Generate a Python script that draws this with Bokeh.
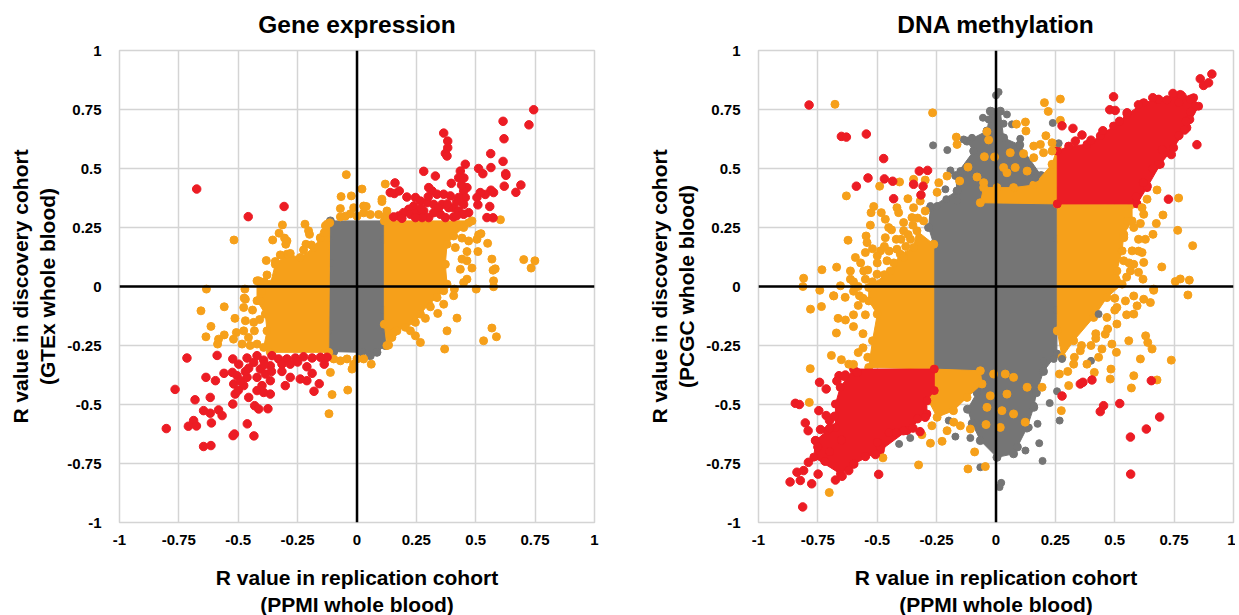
from bokeh.plotting import figure
from bokeh.layouts import row
from bokeh.models import FixedTicker, Span
from bokeh.embed import file_html
from bokeh.resources import INLINE

RED = "#ec1c24"; ORANGE = "#f6a01a"; GRAY = "#757575"
tick_values = [-1, -0.75, -0.5, -0.25, 0, 0.25, 0.5, 0.75, 1]
tick_labels = ["-1", "-0.75", "-0.5", "-0.25", "0", "0.25", "0.5", "0.75", "1"]

# ---------- Gene expression: outlines of the dense clouds ----------
ge_gray_outline = [(-.112,.278),(.118,.278),(.114,.2),(.114,-.1),(.122,-.188),(.119,-.25),(.084,-.279),(.056,-.293),(.02,-.279),(-.098,-.276),(-.119,-.279),(-.122,-.188),(-.114,.1),(-.122,.2)]
ge_orange_right = [(.115,.278),(.484,.278),(.449,.25),(.407,.214),(.379,.179),(.372,.094),(.379,.01),(.365,-.018),(.337,-.047),(.302,-.075),(.267,-.117),(.246,-.152),(.204,-.173),(.168,-.188),(.147,-.216),(.126,-.25),(.115,-.16)]
ge_orange_left = [(-.115,.27),(-.126,.264),(-.154,.207),(-.182,.165),(-.239,.123),(-.295,.137),(-.344,.094),(-.365,.01),(-.421,.024),(-.421,-.06),(-.386,-.117),(-.379,-.188),(-.393,-.258),(-.365,-.279),(-.119,-.279)]
# ---------- Gene expression: separate points ----------
ge_orange = [(-.045,.474),(.021,.413),(.119,.434),(-.067,.381),(-.024,.384),(.105,.37),(.105,.36),(-.07,.33),(-.014,.334),(.028,.341),(.039,.339),(.126,.32),(-.049,.298),(-.028,.308),(0,.298),(.028,.312),(.056,.305),(.091,.305),(.119,.298),(-.07,.295),(.126,.29),
 (-.314,.261),(-.219,.264),(-.204,.236),(-.2,.221),(-.328,.226),(-.355,.197),(-.305,.205),(-.295,.193),(-.3,.179),(-.518,.197),(-.192,.176),(-.215,.179),(-.225,.155),(-.154,.205),(-.138,.228),(-.133,.257),(-.382,.11),(-.344,.106),(-.323,.134),(-.281,.14),(-.379,.049),(-.414,.024),(-.634,-.011),(-.472,-.011),(-.475,-.049),(-.39,.02),(-.4,-.02),
 (-.657,-.103),(-.559,-.086),(-.477,-.089),(-.514,-.135),(-.615,-.169),(-.636,-.213),(-.559,-.205),(-.583,-.223),(-.587,-.244),(-.52,-.223),(-.508,-.195),(-.47,-.145),(-.477,-.188),(-.484,-.244),(-.457,-.216),(-.435,-.152),(-.421,-.244),(-.407,-.061),(-.47,-.054),(-.432,-.188),(-.44,-.1),(-.41,-.14),(-.45,-.25),
 (-.112,-.364),(-.105,-.458),(-.039,-.439),(-.118,-.539),(-.021,-.35),(.06,-.329),(-.098,-.307),(-.07,-.315),(-.042,-.307),(0,-.307),(.028,-.307),(-.014,-.329),
 (.604,.283),(.512,.219),(.522,.224),(.505,.2),(.55,.183),(.509,.148),(.463,.148),(.442,.205),(.47,.193),(.568,.116),(.582,.075),(.573,.069),(.575,.024),(.575,-.001),(.502,-.011),(.702,.114),(.749,.109),(.733,.078),(.463,.109),(.442,.116),(.484,.078),(.435,.073),(.463,.031),(.449,.017),(.41,-.011),(.407,-.039),(.414,.165),(.43,.26),(.47,.27),
 (.365,-.075),(.309,-.086),(.34,-.114),(.421,-.134),(.288,-.135),(.379,-.188),(.568,-.176),(.533,-.23),(.587,-.213),(.369,-.265),(.267,-.237),(.246,-.209),(.225,-.188),(.154,-.195),(.133,-.248)]
ge_red = [(.744,.749),(.724,.685),(.615,.70),(.619,.626),(.365,.65),(.382,.616),(.382,.588),(.372,.564),(.379,.553),(.563,.563),(.615,.53),(.456,.518),(.512,.50),(.564,.504),(.53,.478),(.626,.478),(.627,.471),(.281,.488),(.33,.468),(.435,.489),(.428,.461),(.397,.437),(.62,.425),(.69,.43),(.669,.399),(.16,.439),(.14,.398),(.157,.394),(.178,.405),(.575,.398),(.564,.408),(.54,.39),(.519,.398),(.505,.377),(.559,.339),(.547,.292),(.573,.291),(.509,.346),(.463,.419),(.449,.405),(.456,.377),(.47,.313),(.428,.377),(.407,.334),
 (.21,.379),(.246,.377),(.302,.419),(.316,.405),(.337,.391),(.365,.391),(.393,.384),(.267,.362),(.295,.355),(.323,.348),(.358,.348),(.386,.334),(.428,.32),(.239,.341),(.218,.327),(.196,.313),(.175,.299),(.154,.295),(.189,.289),(.225,.306),(.253,.313),(.281,.32),(.302,.292),(.323,.313),(.351,.306),(.372,.292),(.407,.295),(.449,.306),(.274,.292),(.246,.292),(.344,.334),(.449,.348),(.42,.36),(.44,.43),(.45,.46),(.3,.38),(.27,.33),(.38,.35),(.42,.3),
 (-.675,.413),(-.307,.339),(-.458,.296),
 (-.803,-.602),(-.766,-.436),(-.716,-.303),(-.589,-.292),(-.636,-.385),(-.596,-.399),(-.682,-.48),(-.618,-.47),(-.646,-.526),(-.618,-.537),(-.583,-.523),(-.568,-.547),(-.613,-.578),(-.688,-.568),(-.71,-.592),(-.676,-.591),(-.646,-.678),(-.615,-.674),(-.522,-.632),(-.516,-.625),(-.462,-.582),(-.434,-.633),(-.523,-.498),(-.375,-.518),(-.431,-.505),(-.414,-.519),(-.365,-.456),(-.456,-.47),(-.513,-.456),(-.421,-.441),(-.393,-.449),(-.302,-.42),(-.181,-.444),(-.159,-.412),(-.211,-.399),(-.239,-.392),(-.281,-.385),(-.316,-.36),(-.365,-.399),(-.189,-.368),(-.138,-.329),(-.211,-.34),
 (-.126,-.3),(-.154,-.3),(-.189,-.303),(-.225,-.298),(-.26,-.303),(-.295,-.307),(-.33,-.307),(-.358,-.293),(-.421,-.293),(-.463,-.303),(-.523,-.307),(-.498,-.329),(-.435,-.322),(-.393,-.312),(-.365,-.336),(-.407,-.35),(-.456,-.346),(-.525,-.364),(-.56,-.368),(-.505,-.378),(-.463,-.385),(-.421,-.385),(-.386,-.371),(-.519,-.413),(-.477,-.42),(-.316,-.329),(-.281,-.329),(-.25,-.32),(-.4,-.42),(-.5,-.44),(-.47,-.36),(-.39,-.33),(-.36,-.36),(-.49,-.4)]

# ---------- DNA methylation: outlines of the dense clouds ----------
dm_gray_outline = [(-.262,.179),(-.284,.25),(-.276,.334),(-.164,.405),(-.17,.47),(-.094,.574),(-.122,.616),(-.038,.659),(-.024,.743),(.018,.743),(.032,.63),(.1,.6),(.19,.47),(.215,.419),(.258,.405),(.258,.2),(.258,-.1),(.256,-.286),(.2,-.36),(.17,-.45),(.159,-.512),(.13,-.6),(.09,-.68),(.074,-.709),(.004,-.724),(-.066,-.653),(-.1,-.58),(-.12,-.52),(-.08,-.45),(-.066,-.36),(-.262,-.35)]
dm_orange_left = [(-.262,.179),(-.333,.236),(-.347,.165),(-.403,.137),(-.445,.066),(-.536,-.004),(-.536,-.061),(-.5,-.117),(-.52,-.23),(-.536,-.343),(-.262,-.35)]
dm_orange_right = [(.258,.35),(.573,.348),(.573,.278),(.538,.221),(.531,.151),(.509,.066),(.531,.01),(.467,-.047),(.411,-.131),(.327,-.23),(.278,-.3),(.258,-.188)]
dm_orange_top = [(-.066,.355),(.258,.35),(.258,.588),(.236,.518),(.159,.43),(.074,.419),(.004,.419),(-.052,.419)]
dm_orange_bottom = [(-.262,-.35),(-.066,-.357),(-.059,-.413),(-.122,-.47),(-.179,-.526),(-.248,-.554),(-.284,-.484)]
dm_red_upper = [(.258,.35),(.594,.35),(.636,.419),(.692,.518),(.748,.588),(.804,.673),(.853,.764),(.832,.8),(.776,.814),(.678,.793),(.622,.779),(.552,.729),(.495,.68),(.439,.638),(.383,.602),(.306,.595),(.258,.574)]
dm_red_lower = [(-.26,-.35),(-.6,-.35),(-.656,-.427),(-.676,-.498),(-.676,-.597),(-.711,-.611),(-.76,-.653),(-.767,-.723),(-.655,-.794),(-.599,-.752),(-.487,-.695),(-.375,-.611),(-.291,-.54),(-.291,-.484),(-.26,-.441)]
# ---------- DNA methylation: separate points ----------
dm_gray = [(.011,.824),(0,.81),(-.017,.743),(.046,.729),(-.055,.715),(-.031,.708),(.032,.69),(.067,.687),(.102,.626),(.239,.693),(.264,.607),(-.265,.598),(-.205,.578),(-.136,.623),(-.101,.63),(-.192,.492),(-.15,.489),(-.213,.412),(-.209,.37),(-.161,.408),(-.164,.362),(-.248,.341),(-.276,.341),(.166,.461),
 (-.408,-.667),(-.361,-.642),(-.108,-.642),(-.171,-.636),(-.199,-.568),(-.066,-.766),(.196,-.739),(.124,-.695),(.182,-.664),(.175,-.582),(.138,-.597),(.022,-.832),(.015,-.85),(.268,-.568),(.226,-.494),(.257,-.444),(.159,-.505),(.4,-.315),(.432,-.117),(.2,-.315),(.243,-.307),(.278,-.307)]
dm_orange = [(-.678,.772),(-.267,.736),(-.63,.384),(.204,.779),(.271,.794),(.22,.742),(.271,.704),(.124,.697),(.086,.688),(.126,.659),(.21,.639),(.236,.609),(-.167,.633),(-.164,.602),(-.038,.656),(-.031,.621),(-.049,.55),(-.006,.549),(.06,.567),(.116,.563),(.159,.595),(.187,.602),(.159,.546),(.2,.567),(.236,.574),(.032,.504),(.081,.504),(.046,.482),(.131,.489),(-.118,.506),(-.206,.468),(-.153,.447),(-.08,.464),(-.052,.44),(-.241,.44),(-.248,.399),(-.406,.443),(-.49,.425),(-.347,.454),(-.298,.451),(-.371,.372),(-.319,.362),(-.515,.339),
 (.678,.409),(.769,.375),(.703,.303),(.636,.37),(.615,.334),(.622,.306),(.608,.267),(.675,.267),(.765,.238),(.661,.221),(.629,.2),(.828,.173),(.615,.144),(.622,.102),(.698,.083),(.58,.094),(.538,.109),(.619,.031),(.755,.021),(.776,.032),(.814,.027),(.664,-.016),(.808,-.036),(.573,.151),(.566,.066),(.538,.207),(.552,.278),
 (-.81,.035),(-.813,0),(-.733,.071),(-.671,.082),(-.623,.196),(-.742,-.016),(-.529,.26),(-.526,.313),(-.483,.313),(-.466,.285),(-.452,.25),(-.547,.214),(-.543,.186),(-.466,.207),(-.417,.334),(-.41,.313),(-.389,.271),(-.389,.236),(-.354,.292),(-.347,.334),(-.305,.278),(-.298,.32),(-.592,.123),(-.55,.144),(-.486,.151),(-.417,.158),(-.459,.109),(-.389,.123),(-.613,.066),(-.557,.066),(-.501,.052),(-.613,.031),(-.55,.031),(-.655,.003),(-.635,-.046),(-.575,-.039),(-.684,-.039),(-.5,.1),(-.52,.02),(-.58,0),(-.42,.2),(-.36,.2),(-.45,.15),(-.4,.2),(-.38,.17),(-.5,.13),(-.43,.1),
 (-.35,.26),(-.33,.29),(-.37,.22),(-.44,.24),(-.47,.17),(-.52,.16),(-.57,.1),(-.54,.07),(-.47,.05),(-.6,.02),(-.6,-.02),(-.58,-.08),(-.55,-.12),(-.6,-.17),(-.56,-.26),(-.6,-.33),(-.54,-.3),
 (-.782,-.348),(-.781,-.096),(-.735,-.085),(-.683,-.04),(-.665,-.135),(-.634,-.142),(-.672,-.197),(-.693,-.292),(-.651,-.31),(-.62,-.329),(-.786,-.491),(-.702,-.873),(-.476,-.726),(-.326,-.756),(-.118,-.773),(-.045,-.763),(-.09,-.701),(-.042,-.585),(.018,-.597),(.025,-.526),(.074,-.54),(.123,-.575),(.131,-.427),(.194,-.427),(-.01,-.371),(.039,-.371),(.074,-.385),(.046,-.456),(-.024,-.463),(-.038,-.512),(-.227,-.656),(-.276,-.664),(-.312,-.628),(-.27,-.59),(-.206,-.611),(-.178,-.575),(-.15,-.59),(-.108,-.604),(-.56,-.05),(-.6,-.12),(-.56,-.2),(-.58,-.28),
 (.267,-.371),(.302,-.36),(.306,-.42),(.275,-.526),(.414,-.364),(.481,-.392),(.484,-.35),(.488,-.244),(.507,-.279),(.446,-.265),(.432,-.3),(.58,-.378),(.57,-.43),(.608,-.307),(.738,-.312),(.678,-.396),(.657,-.265),(.639,-.237),(.63,-.209),(.559,-.23),(.46,-.202),(.509,-.159),(.383,-.329),(.327,-.329),(.355,-.272),(.65,-.068),(.622,-.054),(.594,-.082),(.58,-.117),(.545,-.061),(.509,-.089),(.467,-.131),(.664,-.011),(.42,-.2),(.55,-.12),
 (.6,.2),(.58,.25),(.6,.15),(.56,.1),(.6,.06),(.55,.04),(.5,-.1),(.47,-.18),(.4,-.25),(.36,-.25),(.33,-.3),(.42,-.22),(.5,-.05),(.58,-.04)]
dm_red = [(.909,.9),(.86,.88),(.874,.852),(.895,.863),(.495,.804),(.479,.749),(.502,.746),(.745,.818),(.783,.807),(.818,.793),(.839,.764),(.685,.793),(.552,.736),(.815,.708),(.794,.663),(.846,.601),(.738,.559),(.685,.518),(.726,.37),(.636,.426),(.278,.681),(.324,.67),(.362,.642),(.334,.616),
 (.6,.77),(.66,.8),(.72,.79),(.77,.78),(.82,.74),(.8,.7),(.77,.64),(.7,.58),(.66,.5),(.62,.44),(.59,.38),(.45,.66),(.52,.7),(.4,.62),
 (-.787,.769),(-.651,.636),(-.63,.633),(-.546,.646),(-.473,.542),(-.539,.46),(-.588,.425),(-.47,.456),(-.435,.446),(-.323,.489),(-.288,.492),(-.347,.433),(-.307,.425),(-.316,.388),(-.431,.372),
 (-.814,-.934),(-.867,-.828),(-.838,-.787),(-.81,-.78),(-.824,-.822),(-.776,-.836),(-.749,-.795),(-.676,-.82),(-.648,-.804),(-.494,-.796),(-.79,-.745),(-.599,-.752),(-.845,-.495),(-.828,-.5),(-.743,-.406),(-.715,-.434),(-.746,-.526),(-.715,-.547),(-.803,-.578),(-.791,-.611),(-.739,-.606),(-.701,-.568),(-.76,-.653),(-.661,-.378),(-.634,-.375),(-.32,-.615),(-.298,-.554),(-.39,-.611),(-.486,-.681),(-.508,-.712),(-.585,-.364),(-.7,-.7),(-.65,-.65),(-.45,-.62),
 (-.75,-.68),(-.72,-.74),(-.62,-.78),(-.55,-.72),(-.5,-.66),(-.42,-.62),(-.35,-.6),(-.33,-.56),(-.67,-.4),(-.64,-.38),(-.68,-.55),(-.7,-.6),
 (.278,-.464),(.355,-.413),(.366,-.406),(.404,-.396),(.654,-.399),(.521,-.496),(.453,-.505),(.439,-.53),(.689,-.553),(.633,-.604),(.566,-.638),(.567,-.795)]


def unzip(pairs):
    return [a for a, _ in pairs], [b for _, b in pairs]


def panel(title, xlabel, ylabel, border_left, border_right, clouds, points):
    p = figure(frame_width=475, frame_height=472, x_range=(-1, 1), y_range=(-1, 1),
               output_backend="svg", toolbar_location=None,
               min_border_left=border_left, min_border_right=border_right,
               min_border_top=50, min_border_bottom=90,
               outline_line_color="#d4d4d4", outline_line_width=1.5,
               background_fill_color="white", border_fill_color="white")
    p.title.text = title
    p.title.align = "center"
    p.title.vertical_align = "top"
    p.title.text_font = "Liberation Sans"
    p.title.text_font_style = "bold"
    p.title.text_font_size = "24.5px"
    p.title.text_color = "black"
    p.title.offset = 0
    p.title.standoff = 21
    for ax, label in ((p.xaxis[0], xlabel), (p.yaxis[0], ylabel)):
        ax.ticker = FixedTicker(ticks=tick_values)
        ax.major_label_overrides = dict(zip(tick_values, tick_labels))
        ax.axis_label = label
        ax.axis_label_text_font = "Liberation Sans"
        ax.axis_label_text_font_style = "bold"
        ax.axis_label_text_font_size = "21px"
        ax.axis_label_text_color = "black"
        ax.major_label_text_font = "Liberation Sans"
        ax.major_label_text_font_style = "bold"
        ax.major_label_text_font_size = "15px"
        ax.major_label_text_color = "black"
        ax.axis_line_color = None
        ax.major_tick_line_color = None
        ax.minor_tick_line_color = None
    p.xaxis[0].major_label_standoff = 6
    p.yaxis[0].major_label_standoff = 12
    p.xaxis[0].axis_label_standoff = 18
    p.yaxis[0].axis_label_standoff = 5
    p.yaxis[0].major_label_orientation = "horizontal"
    p.grid.grid_line_color = "#d4d4d4"
    p.grid.grid_line_width = 1.5
    for outline, colour in clouds:
        xs, ys = unzip(outline)
        p.patch(xs, ys, fill_color=colour, line_color=colour, line_width=1)
        p.scatter(xs, ys, size=8, color=colour)
    for pts, colour, size in points:
        xs, ys = unzip(pts)
        p.scatter(xs, ys, size=size, color=colour)
    p.add_layout(Span(location=0, dimension="width", line_color="black", line_width=2.5))
    p.add_layout(Span(location=0, dimension="height", line_color="black", line_width=2.5))
    return p


left = panel("Gene expression", "R value in replication cohort\n(PPMI whole blood)",
             "R value in discovery cohort\n(GTEx whole blood)", 119, 46,
             [(ge_gray_outline, GRAY), (ge_orange_right, ORANGE), (ge_orange_left, ORANGE)],
             [(ge_orange, ORANGE, 8), (ge_red, RED, 8.5)])
right = panel("DNA methylation", "R value in replication cohort\n(PPMI whole blood)",
              "R value in discovery cohort\n(PCGC whole blood)", 118, 2,
              [(dm_gray_outline, GRAY), (dm_orange_left, ORANGE), (dm_orange_right, ORANGE),
               (dm_orange_top, ORANGE), (dm_orange_bottom, ORANGE),
               (dm_red_upper, RED), (dm_red_lower, RED)],
              [(dm_gray, GRAY, 7), (dm_orange, ORANGE, 8), (dm_red, RED, 8.5)])

page = row(left, right, spacing=0)
open("out.html", "w").write(file_html(page, INLINE))
